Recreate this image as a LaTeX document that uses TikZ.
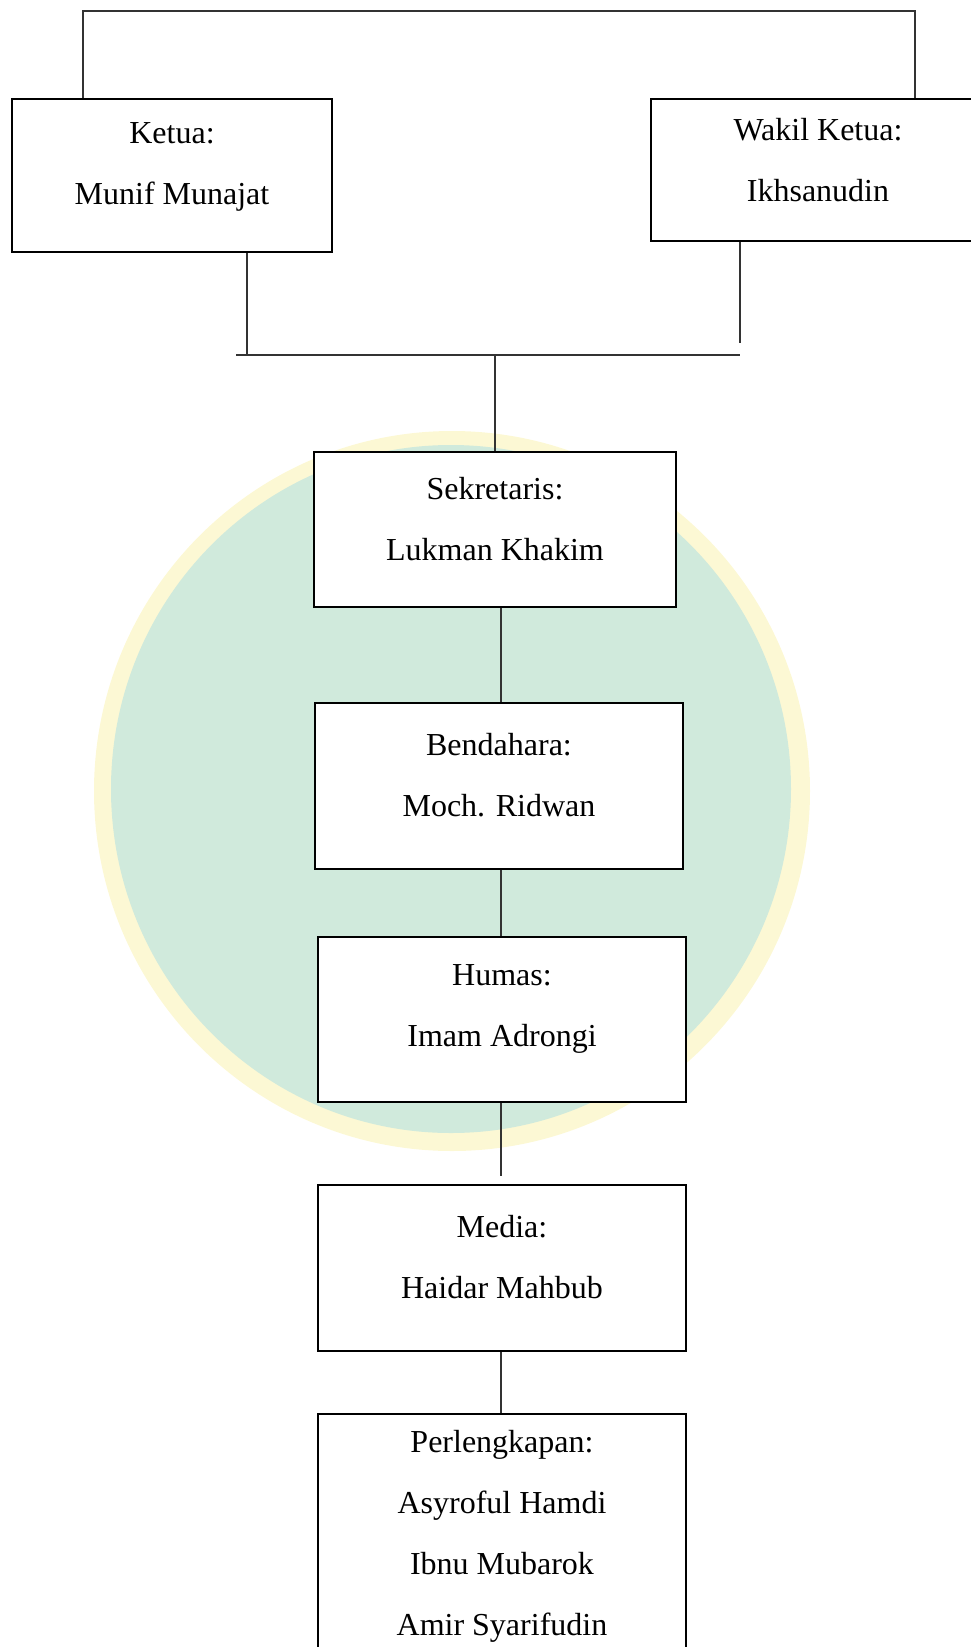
\documentclass[tikz,border=0pt]{standalone}
\usepackage{fontspec}
\setmainfont{Liberation Serif}
\definecolor{logogreen}{RGB}{208,234,220}
\definecolor{logoyellow}{RGB}{252,248,212}

\begin{document}
\begin{tikzpicture}[x=1pt,y=-1pt,
  box/.style={draw,fill=white,line width=2.5pt,inner sep=0pt},
  label text/.style={align=center,font=\fontsize{32}{61}\selectfont},
  link/.style={line width=1.1pt,black!80}]
\useasboundingbox (0,0) rectangle (971,1647);
% faint logo behind the chart
\fill[logoyellow] (452,791) ellipse (358 and 360);
\fill[logogreen] (451,789) ellipse (340 and 344);
% boxes
\node[box,minimum width=320pt,minimum height=153pt] (ketua) at (172,175.5) {};
\node[box,minimum width=334pt,minimum height=142pt] (wakil) at (818,170) {};
\node[box,minimum width=362pt,minimum height=155pt] (sekretaris) at (495,529.5) {};
\node[box,minimum width=368pt,minimum height=166pt] (bendahara) at (499,786) {};
\node[box,minimum width=368pt,minimum height=165pt] (humas) at (502,1019.5) {};
\node[box,minimum width=368pt,minimum height=166pt] (media) at (502,1268) {};
\node[box,minimum width=368pt,minimum height=272pt] (perlengkapan) at (502,1550) {};
\node[label text] (ketuaT) at (172,167) {Ketua:\\Munif Munajat};
\node[label text] (wakilT) at (818,160) {Wakil Ketua:\\Ikhsanudin};
\node[label text] (sekretarisT) at (495,519) {Sekretaris:\\Lukman Khakim};
\node[label text] (bendaharaT) at (499,775) {Bendahara:\\Moch. Ridwan};
\node[label text] (humasT) at (502,1009) {Humas:\\Imam Adrongi};
\node[label text] (mediaT) at (502,1257.5) {Media:\\Haidar Mahbub};
\node[label text] (perlengkapanT) at (502,1536) {Perlengkapan:\\Asyroful Hamdi\\Ibnu Mubarok\\Amir Syarifudin};
% connectors
\coordinate (topL) at (83,11);
\coordinate (topR) at (915,11);
\coordinate (downK) at (247,355);
\coordinate (downW) at (740,343);
\coordinate (midL) at (236,355);
\coordinate (midR) at (740,355);
\coordinate (midC) at (495,355);
\coordinate (spine) at (501,0);
\draw[link] (topL |- ketua.north) -- (topL) -- (topR) -- (topR |- wakil.north);
\draw[link] (downK |- ketua.south) -- (downK);
\draw[link] (downW |- wakil.south) -- (downW);
\draw[link] (midL) -- (midR);
\draw[link] (midC) -- (sekretaris.north);
\draw[link] (spine |- sekretaris.south) -- (spine |- bendahara.north);
\draw[link] (spine |- bendahara.south) -- (spine |- humas.north);
\draw[link] (spine |- humas.south) -- ([yshift=8pt]spine |- media.north);
\draw[link] (spine |- media.south) -- (spine |- perlengkapan.north);
\end{tikzpicture}
\end{document}
